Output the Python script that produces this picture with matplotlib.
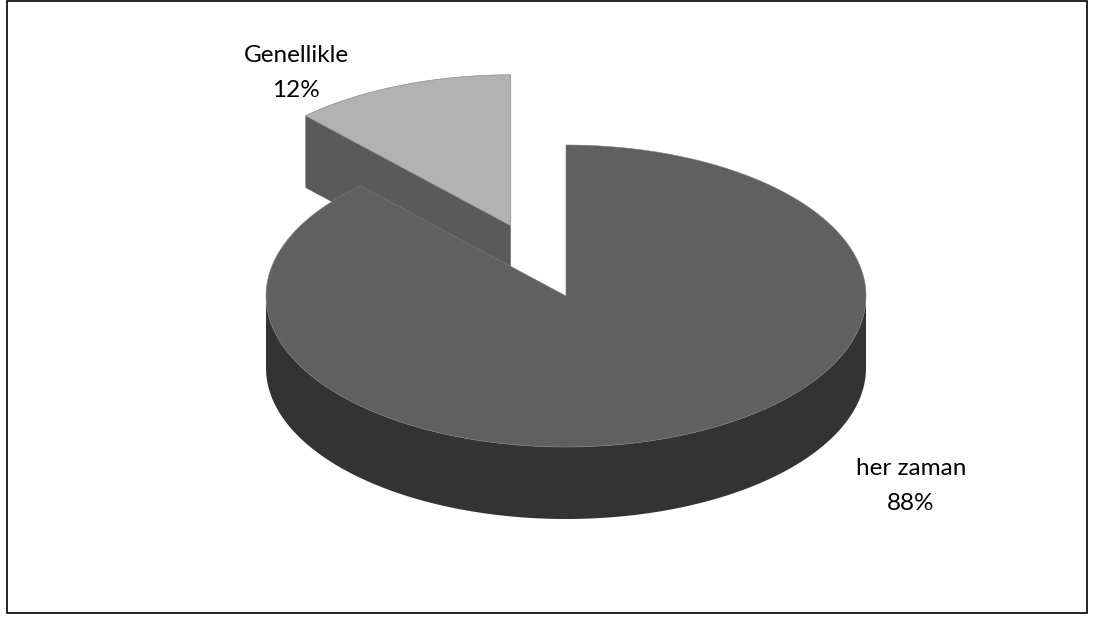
import numpy as np
import matplotlib
matplotlib.use('Agg')
import matplotlib.pyplot as plt
from matplotlib.patches import Polygon, Rectangle

labels = ['her zaman', 'Genellikle']
values = [88, 12]
explode = [0.0, 0.5]
top_colors = ['#606060', '#b2b2b2']
side_colors = ['#333333', '#5a5a5a']

# Layout in pixel coords (y down)
CX, CY = 566, 296
RX, RY = 300, 151
DEPTH = 72


def pt(t, dx=0.0, dy=0.0, dz=0.0):
    t = np.radians(t)
    return CX + dx + RX * np.cos(t), CY + dy - RY * np.sin(t) + dz


def arc(lo, hi, dx, dy, dz=0.0, n=200):
    ts = np.linspace(lo, hi, n)
    return [pt(t, dx, dy, dz) for t in ts]


def draw_slice(ax, lo, hi, dx, dy, top, side):
    # lo..hi counter-clockwise angle range in degrees
    apex = (CX + dx, CY + dy)
    apex_b = (CX + dx, CY + dy + DEPTH)
    # cut faces
    for a, normal in ((hi, hi + 90), (lo, lo - 90)):
        if np.sin(np.radians(normal)) < -1e-6:
            p = pt(a, dx, dy)
            pb = pt(a, dx, dy, DEPTH)
            ax.add_patch(Polygon([apex, p, pb, apex_b], closed=True,
                                 facecolor=side, edgecolor='none'))
    # outer side (front half only)
    for k in range(-2, 3):
        s = max(lo, 180 + 360 * k)
        e = min(hi, 360 + 360 * k)
        if e > s:
            pts = arc(s, e, dx, dy) + arc(s, e, dx, dy, DEPTH)[::-1]
            ax.add_patch(Polygon(pts, closed=True, facecolor=side,
                                 edgecolor='none'))
    # top face
    pts = [apex] + arc(lo, hi, dx, dy)
    ax.add_patch(Polygon(pts, closed=True, facecolor=top,
                         edgecolor='#7c7c7c', linewidth=0.4))


fig = plt.figure(figsize=(10.93, 6.19), dpi=100)
ax = fig.add_axes([0, 0, 1, 1])
ax.set_xlim(0, 1093)
ax.set_ylim(619, 0)
ax.axis('off')

total = float(sum(values))
start = 90.0
slices = []
for i, v in enumerate(values):
    sweep = 360.0 * v / total
    hi = start
    lo = start - sweep
    mid = np.radians((lo + hi) / 2)
    dx = RX * explode[i] * np.cos(mid)
    dy = -RY * explode[i] * np.sin(mid)
    slices.append((i, lo, hi, dx, dy))
    start = lo

# draw exploded (back) slices first
for i, lo, hi, dx, dy in sorted(slices, key=lambda s: -explode[s[0]]):
    draw_slice(ax, lo, hi, dx, dy, top_colors[i], side_colors[i])

font = ['Lato', 'DejaVu Sans']
label_pos = [(911, 486), (296, 73)]
for i, (x, y) in enumerate(label_pos):
    ax.text(x, y, f'{labels[i]}\n{values[i]}%', ha='center', va='center',
            fontsize=17.5, family=font, linespacing=1.85)

ax.add_patch(Rectangle((7, 1), 1080, 612, fill=False, edgecolor='black',
                       linewidth=1.2))

fig.savefig('out.png', dpi=100)
